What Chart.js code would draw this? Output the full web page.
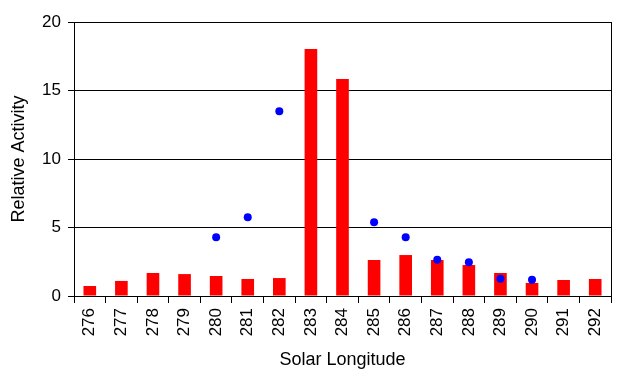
<!DOCTYPE html>
<html>
<head>
<meta charset="utf-8">
<script src="https://cdn.jsdelivr.net/npm/chart.js@4"></script>
<style>
  html, body { margin: 0; padding: 0; background: #fff; }
  #wrap { width: 630px; height: 380px; }
</style>
</head>
<body>
<div id="wrap"><canvas id="myChart" width="630" height="380"></canvas></div>
<script>
// Solar longitude categories
const longitudes = ['276', '277', '278', '279', '280', '281', '282', '283', '284',
                    '285', '286', '287', '288', '289', '290', '291', '292'];
// Relative activity (bars)
const barActivity = [0.73, 1.1, 1.68, 1.6, 1.46, 1.24, 1.31, 18.03, 15.84,
                     2.63, 2.99, 2.63, 2.26, 1.68, 0.95, 1.17, 1.24];
// Second set of observations (blue dots), null where missing
const dotActivity = [null, null, null, null, 4.28, 5.74, 13.48, null, null,
                     5.38, 4.28, 2.65, 2.46, 1.26, 1.19, null, null];
const yTicks = [0, 5, 10, 15, 20];

const font = "'Liberation Sans', Arial, sans-serif";

// right hand border of the plot area
const rightBorder = {
    id: 'rightBorder',
    afterDraw(chart) {
        const { ctx, chartArea } = chart;
        ctx.save();
        ctx.strokeStyle = '#000';
        ctx.lineWidth = 1;
        ctx.beginPath();
        ctx.moveTo(Math.round(chartArea.right) + 0.5, chartArea.top);
        ctx.lineTo(Math.round(chartArea.right) + 0.5, chartArea.bottom);
        ctx.stroke();
        ctx.restore();
    }
};

const ctx = document.getElementById('myChart').getContext('2d');
const chart = new Chart(ctx, {
    type: 'bar',
    data: {
        labels: longitudes,
        datasets: [{
            type: 'line',
            data: dotActivity,
            showLine: false,
            pointRadius: 4,
            pointBackgroundColor: '#0000FF',
            pointBorderWidth: 0,
            borderColor: '#0000FF',
            order: 1
        }, {
            type: 'bar',
            data: barActivity,
            backgroundColor: '#FF0000',
            borderWidth: 0,
            categoryPercentage: 1,
            barPercentage: 0.4,
            order: 2
        }]
    },
    options: {
        responsive: false,
        animation: false,
        layout: { padding: { top: 22, right: 19, left: 0, bottom: 0 } },
        plugins: {
            legend: { display: false },
            tooltip: { enabled: false }
        },
        scales: {
            x: {
                offset: true,
                grid: {
                    offset: true,
                    drawOnChartArea: false,
                    color: '#000',
                    tickLength: 7,
                    tickColor: '#000'
                },
                border: { color: '#000', width: 1 },
                ticks: {
                    color: '#000',
                    font: { family: font, size: 17 },
                    minRotation: 90,
                    maxRotation: 90,
                    padding: 5,
                    autoSkip: false
                },
                title: {
                    display: true,
                    text: 'Solar Longitude',
                    color: '#000',
                    font: { family: font, size: 18 },
                    padding: { top: 0, bottom: 9 }
                },
                afterFit(scale) { scale.height = 84; }
            },
            y: {
                min: 0,
                max: 20,
                afterBuildTicks(scale) { scale.ticks = yTicks.map(v => ({ value: v })); },
                grid: {
                    color: '#000',
                    tickLength: 6,
                    tickColor: '#000'
                },
                border: { color: '#000', width: 1 },
                ticks: {
                    color: '#000',
                    font: { family: font, size: 17 },
                    padding: 7
                },
                title: {
                    display: true,
                    text: 'Relative Activity',
                    color: '#000',
                    font: { family: font, size: 18 },
                    padding: { top: 8, bottom: 0 }
                },
                afterFit(scale) { scale.width = 74; }
            }
        }
    },
    plugins: [rightBorder]
});
</script>
</body>
</html>
